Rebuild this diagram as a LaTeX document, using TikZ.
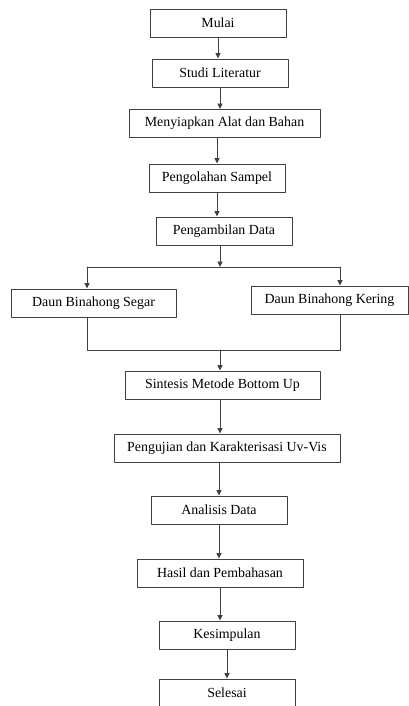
\documentclass[tikz,border=0pt]{standalone}
\usepackage{fontspec}
\setmainfont{Liberation Serif}
\usetikzlibrary{arrows.meta}
\tikzset{
  kotak/.style={draw=black!75,line width=0.9pt,minimum height=28pt,inner sep=0pt,
    font=\fontsize{13.9}{16}\selectfont},
  panah/.style={draw=black!75,line width=0.9pt,-{Triangle[length=5.5pt,width=5pt]}},
  garis/.style={draw=black!75,line width=0.9pt}
}
\begin{document}
\begin{tikzpicture}[x=1pt,y=-1pt,line cap=round,line join=round]
  \useasboundingbox (0,0) rectangle (409,706);
  \node[kotak,minimum width=136pt] (mulai) at (218,23) {Mulai};
  \node[kotak,minimum width=136pt] (studi) at (220,73) {Studi Literatur};
  \node[kotak,minimum width=191pt] (alat) at (224.5,123.5) {Menyiapkan Alat dan Bahan};
  \node[kotak,minimum width=136pt] (olah) at (217,178) {Pengolahan Sampel};
  \node[kotak,minimum width=136pt] (ambil) at (224,231) {Pengambilan Data};
  \node[kotak,minimum width=165pt] (segar) at (93.5,303) {Daun Binahong Segar};
  \node[kotak,minimum width=157pt] (kering) at (329.5,300) {Daun Binahong Kering};
  \node[kotak,minimum width=195pt] (sintesis) at (222.5,385) {Sintesis Metode Bottom Up};
  \node[kotak,minimum width=226pt] (uji) at (227,448) {Pengujian dan Karakterisasi Uv-Vis};
  \node[kotak,minimum width=136pt] (analisis) at (219,510) {Analisis Data};
  \node[kotak,minimum width=166pt] (hasil) at (220,573) {Hasil dan Pembahasan};
  \node[kotak,minimum width=136pt] (simpul) at (227,635) {Kesimpulan};
  \node[kotak,minimum width=136pt] (selesai) at (227,693) {Selesai};

  \coordinate (cabang) at (220,267);
  \coordinate (cabkiri) at (87,267);
  \coordinate (cabkanan) at (340,267);
  \coordinate (gabkiri) at (87,350);
  \coordinate (gabkanan) at (340,350);
  \coordinate (gabung) at (220,350);

  \draw[panah] (mulai.south) -- (mulai.south |- studi.north);
  \draw[panah] (studi.south) -- (studi.south |- alat.north);
  \draw[panah] (olah.north |- alat.south) -- (olah.north);
  \draw[panah] (olah.south) -- (olah.south |- ambil.north);
  \draw[panah] (cabang |- ambil.south) -- (cabang);
  \draw[garis] (cabkiri) -- (cabkanan);
  \draw[panah] (cabkiri) -- (cabkiri |- segar.north);
  \draw[panah] (cabkanan) -- (cabkanan |- kering.north);
  \draw[garis] (gabkiri |- segar.south) -- (gabkiri) -- (gabkanan) -- (gabkanan |- kering.south);
  \draw[panah] (gabung) -- (gabung |- sintesis.north);
  \draw[panah] (sintesis.south -| gabung) -- (gabung |- uji.north);
  \draw[panah] (uji.south -| analisis) -- (analisis.north);
  \draw[panah] (analisis.south) -- (analisis.south |- hasil.north);
  \draw[panah] (hasil.south) -- (hasil.south |- simpul.north);
  \draw[panah] (simpul.south) -- (selesai.north);
\end{tikzpicture}
\end{document}
